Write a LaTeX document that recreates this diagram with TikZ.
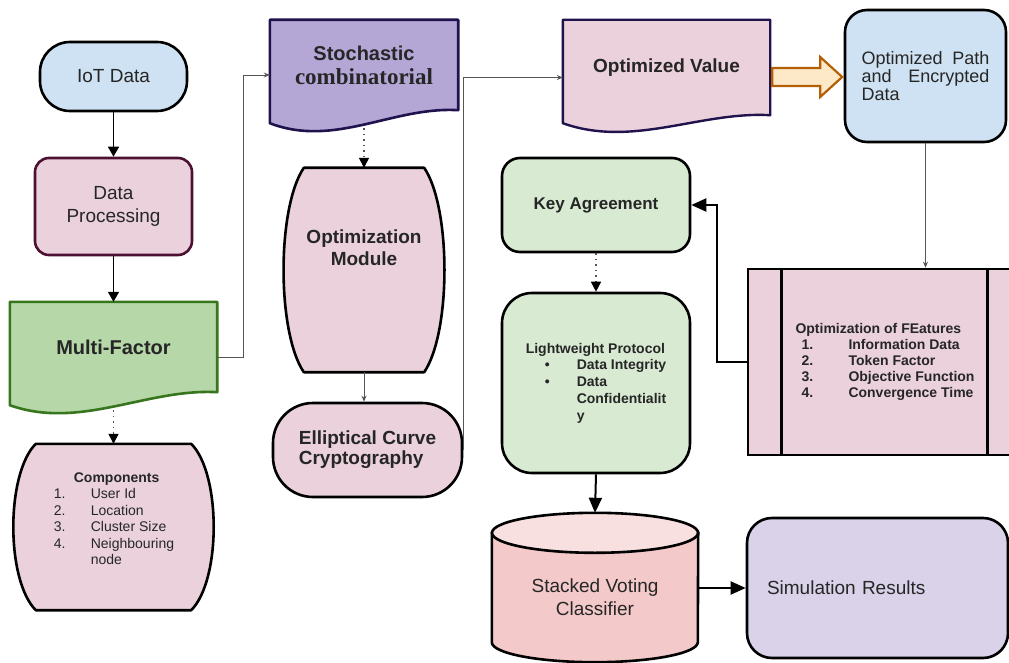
\documentclass[tikz,border=0pt]{standalone}
\usepackage{fontspec}
\setmainfont{Liberation Sans}
\newfontfamily\timesbf{Liberation Serif}
\usetikzlibrary{arrows.meta,backgrounds,calc}

\definecolor{skyblue}{HTML}{CFE2F3}
\definecolor{rosefill}{HTML}{EAD1DC}
\definecolor{plumline}{HTML}{4C1130}
\definecolor{leaf}{HTML}{B6D7A8}
\definecolor{leafline}{HTML}{38761D}
\definecolor{lavender}{HTML}{B4A7D6}
\definecolor{navyline}{HTML}{20124D}
\definecolor{mintfill}{HTML}{D9EAD3}
\definecolor{coral}{HTML}{F3C9C9}
\definecolor{coralcap}{HTML}{F8E0E0}
\definecolor{lilac}{HTML}{D9D2E9}
\definecolor{peach}{HTML}{FDE9C8}
\definecolor{ochre}{HTML}{B45F06}
\definecolor{linkgray}{HTML}{555555}
\definecolor{inkgray}{HTML}{262626}

\begin{document}
\begin{tikzpicture}[x=1pt,y=-1pt,
  every node/.style={text=inkgray,font=\fontsize{19}{23}\selectfont},
  boxed/.style={draw=black,line width=2.6pt,align=center,inner sep=0pt},
  bare/.style={align=center,inner sep=0pt},
  bigbf/.style={font=\fontsize{19}{22}\selectfont\bfseries},
  listtext/.style={font=\fontsize{14}{16.5}\selectfont},
  thinlink/.style={draw=linkgray,line width=0.9pt,-{Stealth[length=6pt,width=5pt]}},
  dotlink/.style={draw=linkgray,line width=1.4pt,dash pattern=on 1.5pt off 4pt,-{Triangle[length=10pt,width=10pt,color=black]}},
  boldlink/.style={draw=black,line width=1.6pt,-{Triangle[length=10pt,width=11pt]}},
  heavylink/.style={draw=black,line width=2pt,-{Triangle[length=15pt,width=13pt]}}]
  \useasboundingbox (0,0) rectangle (1009,663);
  \clip (0,0) rectangle (1009,663);

  % left column
  \node[boxed,fill=skyblue,rounded corners=30pt,minimum width=147pt,minimum height=69pt] (iot) at (113.5,76.5) {IoT Data};
  \node[boxed,draw=plumline,fill=rosefill,rounded corners=14pt,minimum width=157pt,minimum height=97pt] (dp) at (113.5,206.5) {Data\\Processing};
  \node[bare,minimum width=207pt,minimum height=90pt,font=\fontsize{20}{24}\selectfont\bfseries] (mf) at (113.5,347) {Multi-Factor};
  \node[bare,listtext,align=left,minimum width=155pt,minimum height=166pt] (comp) at (113.5,527)
    {\hspace*{21pt}\textbf{Components}\\
     \makebox[38pt][l]{\hspace*{1pt}1.}User Id\\
     \makebox[38pt][l]{\hspace*{1pt}2.}Location\\
     \makebox[38pt][l]{\hspace*{1pt}3.}Cluster Size\\
     \makebox[38pt][l]{\hspace*{1pt}4.}Neighbouring\\
     \hspace*{38pt}node\\\mbox{}};

  % middle column
  \node[bare,minimum width=188pt,minimum height=90pt,font=\fontsize{20}{24}\selectfont\bfseries] (stoch) at (364,65)
    {Stochastic\\{\timesbf\fontsize{23}{25}\selectfont combinatorial}};
  \node[bare,bigbf,minimum width=120pt,minimum height=204pt] (om) at (364,270) {Optimization\\Module\\[22pt]\mbox{}};
  \node[boxed,fill=rosefill,rounded corners=40pt,minimum width=189pt,minimum height=94pt,align=left,font=\fontsize{19}{20}\selectfont\bfseries] (ecc) at (367.5,450) {Elliptical Curve\\Cryptography};

  % right part
  \node[bare,bigbf,minimum width=207pt,minimum height=95pt] (optv) at (666.5,67.5) {Optimized Value};
  \node[boxed,fill=skyblue,rounded corners=22pt,minimum width=161pt,minimum height=132pt,text width=128pt,align=justify,
        font=\fontsize{18}{18}\selectfont] (opath) at (925.5,76) {Optimized Path and Encrypted Data};
  \node[boxed,fill=mintfill,rounded corners=18pt,minimum width=188pt,minimum height=94pt,font=\fontsize{17}{20}\selectfont\bfseries] (key) at (596,205) {Key Agreement};
  \node[boxed,fill=mintfill,rounded corners=30pt,minimum width=188pt,minimum height=180pt,align=left,font=\fontsize{14}{16.7}\selectfont\bfseries] (lw) at (596,383)
    {Lightweight Protocol\\
     \hspace*{19pt}\makebox[32pt][l]{•}Data Integrity\\
     \hspace*{19pt}\makebox[32pt][l]{•}Data\\
     \hspace*{51pt}Confidentialit\\
     \hspace*{51pt}y};
  \node[boxed,fill=rosefill,minimum width=274pt,minimum height=186pt,align=left,font=\fontsize{14}{16}\selectfont\bfseries] (feat) at (885,362)
    {Optimization of FEatures\\
     \hspace*{6pt}\makebox[47pt][l]{1.}Information Data\\
     \hspace*{6pt}\makebox[47pt][l]{2.}Token Factor\\
     \hspace*{6pt}\makebox[47pt][l]{3.}Objective Function\\
     \hspace*{6pt}\makebox[47pt][l]{4.}Convergence Time};
  \draw[line width=2.6pt] ($(feat.north west)+(35,0)$) -- ($(feat.south west)+(35,0)$)
                          ($(feat.north east)+(-36,0)$) -- ($(feat.south east)+(-36,0)$);
  \node[bare,minimum width=206pt,minimum height=129pt] (svc) at (595,597.5) {Stacked Voting\\Classifier};
  \node[boxed,fill=lilac,rounded corners=25pt,minimum width=261pt,minimum height=140pt,text width=221pt,align=left] (sim) at (877.5,588) {Simulation Results};

  \begin{scope}[on background layer]
    \fill[white] (0,0) rectangle (1009,663);
    % document shapes
    \filldraw[fill=leaf,draw=leafline,line width=2.6pt,line join=round]
      (mf.north west) -- (mf.north east) -- (mf.south east)
      .. controls +(-70,-4) and +(70,25) .. ($(mf.south west)+(0,13)$) -- cycle;
    \filldraw[fill=lavender,draw=navyline,line width=2.6pt,line join=round]
      (stoch.north west) -- (stoch.north east) -- (stoch.south east)
      .. controls +(-65,-4) and +(65,25) .. ($(stoch.south west)+(0,13)$) -- cycle;
    \filldraw[fill=rosefill,draw=navyline,line width=2.4pt,line join=round]
      (optv.north west) -- (optv.north east) -- (optv.south east)
      .. controls +(-70,-4) and +(70,25) .. ($(optv.south west)+(0,8)$) -- cycle;
    % barrels
    \filldraw[fill=rosefill,draw=black,line width=2.6pt,line join=round]
      (comp.north west) -- (comp.north east)
      .. controls +(30,30) and +(30,-30) .. (comp.south east) -- (comp.south west)
      .. controls +(-30,-30) and +(-30,30) .. (comp.north west) -- cycle;
    \filldraw[fill=rosefill,draw=black,line width=2.6pt,line join=round]
      (om.north west) -- (om.north east)
      .. controls +(27,40) and +(27,-40) .. (om.south east) -- (om.south west)
      .. controls +(-27,-40) and +(-27,40) .. (om.north west) -- cycle;
    % cylinder
    \filldraw[fill=coral,draw=black,line width=2.6pt]
      (svc.north west) -- ($(svc.south west)+(0,-20)$)
      arc[start angle=180,end angle=360,x radius=103pt,y radius=20pt]
      -- (svc.north east) -- cycle;
    \filldraw[fill=coralcap,draw=black,line width=2.6pt] (svc.north) ellipse[x radius=103pt,y radius=20pt];
  \end{scope}

  % hollow block arrow between value and path
  \filldraw[fill=peach,draw=ochre,line width=2.2pt,line join=miter]
    ([xshift=2pt,yshift=-0.5pt]optv.east) -- ++(48,0) -- ++(0,-11) -- ++(22,20) -- ++(-22,20)
    -- ++(0,-11) -- ++(-48,0) -- cycle;

  \draw[boldlink] (iot.south) -- (dp.north);
  \draw[boldlink] (dp.south) -- (mf.north);
  \draw[dotlink] ([yshift=-18pt]mf.south) -- (comp.north);
  \draw[dotlink] ([yshift=-18pt]stoch.south) -- (om.north);
  \draw[dotlink] (key.south) -- (lw.north);
  \draw[thinlink] ([yshift=-10pt]mf.east) -- ++(26,0) |- ([yshift=-10pt]stoch.west);
  \draw[thinlink] (om.south) -- (om.south |- ecc.north);
  \draw[thinlink] (ecc.east) |- ([yshift=-10pt]optv.west);
  \draw[thinlink] (opath.south) -- (opath.south |- feat.north);
  \draw[heavylink] (feat.west) -- ++(-30,0) |- (key.east);
  \draw[heavylink] (lw.south) -- ([yshift=20pt]svc.north);
  \draw[heavylink] (svc.east |- sim.west) -- (sim.west);
\end{tikzpicture}
\end{document}
